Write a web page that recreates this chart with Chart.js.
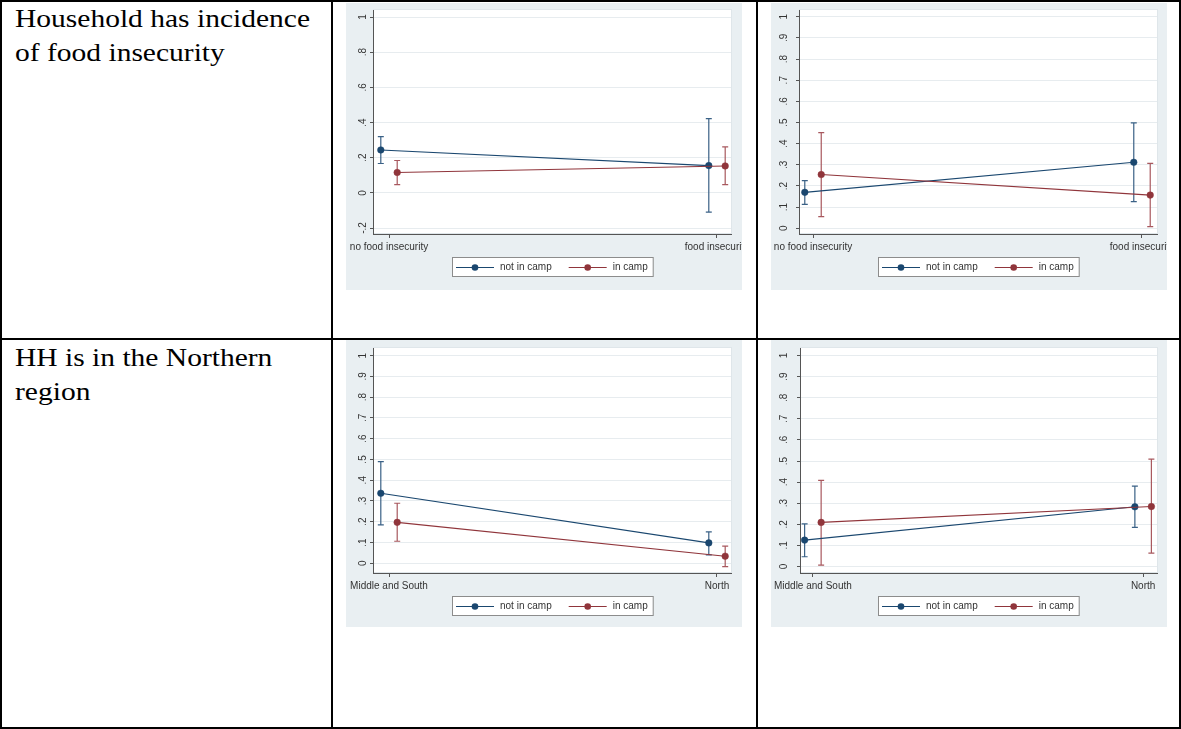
<!DOCTYPE html>
<html>
<head>
<meta charset="utf-8">
<script src="https://cdn.jsdelivr.net/npm/chart.js@4.4.1/dist/chart.umd.min.js"></script>
<style>
  html, body { margin: 0; padding: 0; background: #ffffff; }
  #page { position: relative; width: 1181px; height: 729px; overflow: hidden; background: #ffffff; }
  .rule { position: absolute; background: #000000; }
  .cell-text {
    position: absolute; left: 15px; white-space: nowrap;
    font-family: "Liberation Serif", "Times New Roman", serif;
    font-size: 26px; line-height: 34px; color: #000000;
    transform: scaleX(1.135); transform-origin: 0 0;
  }
  .panel { position: absolute; width: 396px; height: 287px; background: #e9eff2; overflow: hidden; }
  .panel canvas { display: block; }
</style>
</head>
<body>
<div id="page">
  <div class="rule" style="left:0;top:0;width:1181px;height:2px"></div>
  <div class="rule" style="left:0;top:727px;width:1181px;height:2px"></div>
  <div class="rule" style="left:0;top:0;width:2px;height:729px"></div>
  <div class="rule" style="left:331px;top:0;width:2px;height:729px"></div>
  <div class="rule" style="left:756px;top:0;width:2px;height:729px"></div>
  <div class="rule" style="left:1179px;top:0;width:2px;height:729px"></div>
  <div class="rule" style="left:0;top:338px;width:1181px;height:2px"></div>

  <div class="cell-text" style="top:2px">Household has incidence<br>of food insecurity</div>
  <div class="cell-text" style="top:341px">HH is in the Northern<br>region</div>

  <div class="panel" style="left:346px;top:3px"><canvas id="foodA" width="396" height="287"></canvas></div>
  <div class="panel" style="left:771px;top:3px"><canvas id="foodB" width="396" height="287"></canvas></div>
  <div class="panel" style="left:346px;top:340px"><canvas id="regionA" width="396" height="287"></canvas></div>
  <div class="panel" style="left:771px;top:340px"><canvas id="regionB" width="396" height="287"></canvas></div>
</div>

<script>
// ---- categories, series names and tick labels ----
const CATEGORIES_FOOD = ["no food insecurity", "food insecurity"];
const CATEGORIES_REGION = ["Middle and South", "North"];
const SERIES_NAMES = ["not in camp", "in camp"];

const TICKS_FIFTHS = [-0.2, 0, 0.2, 0.4, 0.6, 0.8, 1];
const TICK_LABELS_FIFTHS = ["-.2", "0", ".2", ".4", ".6", ".8", "1"];
const TICKS_TENTHS = [0, 0.1, 0.2, 0.3, 0.4, 0.5, 0.6, 0.7, 0.8, 0.9, 1];
const TICK_LABELS_TENTHS = ["0", ".1", ".2", ".3", ".4", ".5", ".6", ".7", ".8", ".9", "1"];

// ---- predicted probabilities with 95% confidence bounds ----
// food insecurity, first specification
const FOOD_A_NOT_CAMP    = [0.244, 0.155];
const FOOD_A_NOT_CAMP_LO = [0.167, -0.110];
const FOOD_A_NOT_CAMP_HI = [0.320, 0.422];
const FOOD_A_IN_CAMP     = [0.116, 0.153];
const FOOD_A_IN_CAMP_LO  = [0.047, 0.047];
const FOOD_A_IN_CAMP_HI  = [0.184, 0.261];

// food insecurity, second specification
const FOOD_B_NOT_CAMP    = [0.170, 0.312];
const FOOD_B_NOT_CAMP_LO = [0.113, 0.126];
const FOOD_B_NOT_CAMP_HI = [0.225, 0.498];
const FOOD_B_IN_CAMP     = [0.254, 0.157];
const FOOD_B_IN_CAMP_LO  = [0.055, 0.008];
const FOOD_B_IN_CAMP_HI  = [0.452, 0.307];

// Northern region, first specification
const REGION_A_NOT_CAMP    = [0.337, 0.098];
const REGION_A_NOT_CAMP_LO = [0.185, 0.040];
const REGION_A_NOT_CAMP_HI = [0.490, 0.151];
const REGION_A_IN_CAMP     = [0.197, 0.034];
const REGION_A_IN_CAMP_LO  = [0.106, -0.016];
const REGION_A_IN_CAMP_HI  = [0.289, 0.082];

// Northern region, second specification
const REGION_B_NOT_CAMP    = [0.125, 0.283];
const REGION_B_NOT_CAMP_LO = [0.046, 0.185];
const REGION_B_NOT_CAMP_HI = [0.202, 0.381];
const REGION_B_IN_CAMP     = [0.209, 0.284];
const REGION_B_IN_CAMP_LO  = [0.006, 0.063];
const REGION_B_IN_CAMP_HI  = [0.408, 0.509];

// ---- styling ----
const SERIES_COLORS = ["#1a476f", "#90353b"];
const CI_COLORS = ["#3a6186", "#a8585e"];
const DODGE = [-0.025, 0.025];          // horizontal offset of each series around its category
const FONT = { family: "'Liberation Sans', Arial, sans-serif", size: 10 };
const TEXT_COLOR = "#333333";
const AXIS_COLOR = "#555555";
const GRID_COLOR = "#e7ecef";

// white plot region behind the data
const plotRegion = {
  id: "plotRegion",
  beforeDraw(chart) {
    const { ctx, chartArea: a } = chart;
    ctx.save();
    ctx.fillStyle = "#ffffff";
    ctx.fillRect(a.left, a.top, a.right - a.left, a.bottom - a.top);
    ctx.strokeStyle = "#dfe6ea";
    ctx.lineWidth = 1;
    ctx.strokeRect(a.left + 0.5, a.top - 0.5, a.right - a.left, a.bottom - a.top);
    ctx.restore();
  }
};

// capped confidence-interval spikes
const errorBars = {
  id: "errorBars",
  beforeDatasetsDraw(chart) {
    const { ctx, scales: { x, y } } = chart;
    chart.data.datasets.forEach(ds => {
      ctx.save();
      ctx.strokeStyle = ds.ciColor;
      ctx.lineWidth = 1.2;
      ds.data.forEach((pt, j) => {
        const px = x.getPixelForValue(pt.x);
        const lo = y.getPixelForValue(ds.errLo[j]);
        const hi = y.getPixelForValue(ds.errHi[j]);
        ctx.beginPath();
        ctx.moveTo(px, lo); ctx.lineTo(px, hi);
        ctx.moveTo(px - 3, lo); ctx.lineTo(px + 3, lo);
        ctx.moveTo(px - 3, hi); ctx.lineTo(px + 3, hi);
        ctx.stroke();
      });
      ctx.restore();
    });
  }
};

// boxed legend under the axis, line-and-marker keys
const boxedLegend = {
  id: "boxedLegend",
  afterDraw(chart) {
    const { ctx, chartArea: a } = chart;
    const sets = chart.data.datasets;
    ctx.save();
    ctx.font = FONT.size + "px " + FONT.family;
    const keyW = 38, afterKey = 6, between = 17, padL = 4, padR = 5, boxH = 19;
    const widths = sets.map(ds => ctx.measureText(ds.label).width);
    let total = padL + padR;
    widths.forEach((w, i) => { total += keyW + afterKey + w + (i ? between : 0); });
    const cx = (a.left + a.right) / 2;
    const left = Math.round(cx - total / 2);
    const top = Math.round(a.bottom + 23);
    ctx.fillStyle = "#ffffff";
    ctx.fillRect(left, top, total, boxH);
    ctx.strokeStyle = "#8c8c8c";
    ctx.lineWidth = 1;
    ctx.strokeRect(left + 0.5, top + 0.5, total, boxH);
    const midY = top + boxH / 2 + 0.5;
    let xPos = left + padL;
    sets.forEach((ds, i) => {
      if (i) xPos += between;
      ctx.strokeStyle = ds.borderColor;
      ctx.beginPath(); ctx.moveTo(xPos, Math.round(midY) + 0.5); ctx.lineTo(xPos + keyW, Math.round(midY) + 0.5); ctx.stroke();
      ctx.fillStyle = ds.borderColor;
      ctx.beginPath(); ctx.arc(xPos + keyW / 2, Math.round(midY) + 0.5, 3.3, 0, Math.PI * 2); ctx.fill();
      xPos += keyW + afterKey;
      ctx.fillStyle = TEXT_COLOR;
      ctx.textBaseline = "middle";
      ctx.textAlign = "left";
      ctx.fillText(ds.label, xPos, midY);
      xPos += widths[i];
    });
    ctx.restore();
  }
};

function buildChart(id, spec) {
  const datasets = spec.series.map((s, k) => ({
    label: SERIES_NAMES[k],
    data: s.values.map((v, j) => ({ x: j + DODGE[k], y: v })),
    errLo: s.lo,
    errHi: s.hi,
    ciColor: CI_COLORS[k],
    borderColor: SERIES_COLORS[k],
    backgroundColor: SERIES_COLORS[k],
    pointBackgroundColor: SERIES_COLORS[k],
    pointBorderColor: SERIES_COLORS[k],
    pointRadius: 3.3,
    pointBorderWidth: 0.5,
    borderWidth: 1.1,
    showLine: true,
    tension: 0,
    order: 1 - k,
    clip: false
  }));

  const H = 287, W = 396, xAxisH = 20;
  return new Chart(document.getElementById(id), {
    type: "scatter",
    data: { datasets },
    plugins: [plotRegion, errorBars, boxedLegend],
    options: {
      responsive: false,
      animation: false,
      events: [],
      layout: {
        padding: { left: 0, right: W - spec.area.right, top: spec.area.top, bottom: H - spec.area.bottom - xAxisH }
      },
      plugins: { legend: { display: false }, tooltip: { enabled: false } },
      scales: {
        x: {
          type: "linear",
          min: spec.xRange[0],
          max: spec.xRange[1],
          afterBuildTicks: sc => { sc.ticks = spec.categories.map((c, i) => ({ value: i })); },
          afterFit: sc => { sc.height = xAxisH; sc.paddingLeft = 0; sc.paddingRight = 0; },
          ticks: {
            font: FONT, color: TEXT_COLOR, padding: 3, autoSkip: false,
            maxRotation: 0, minRotation: 0,
            callback: (v, i) => spec.categories[i]
          },
          grid: { drawOnChartArea: false, drawTicks: true, tickLength: 4, tickColor: AXIS_COLOR },
          border: { display: true, color: AXIS_COLOR, width: 1 }
        },
        y: {
          type: "linear",
          min: spec.yRange[0],
          max: spec.yRange[1],
          afterBuildTicks: sc => { sc.ticks = spec.ticks.map(v => ({ value: v })); },
          afterFit: sc => { sc.width = spec.area.left; sc.paddingTop = 0; sc.paddingBottom = 0; },
          ticks: {
            font: FONT, color: TEXT_COLOR, autoSkip: false,
            minRotation: 90, maxRotation: 90,
            crossAlign: "center",
            padding: spec.yLabelPad,
            callback: (v, i) => spec.tickLabels[i]
          },
          grid: { color: GRID_COLOR, lineWidth: 1, drawTicks: true, tickLength: 3, tickColor: AXIS_COLOR },
          border: { display: true, color: AXIS_COLOR, width: 1 }
        }
      }
    }
  });
}

buildChart("foodA", {
  categories: CATEGORIES_FOOD,
  series: [
    { values: FOOD_A_NOT_CAMP, lo: FOOD_A_NOT_CAMP_LO, hi: FOOD_A_NOT_CAMP_HI },
    { values: FOOD_A_IN_CAMP, lo: FOOD_A_IN_CAMP_LO, hi: FOOD_A_IN_CAMP_HI }
  ],
  ticks: TICKS_FIFTHS, tickLabels: TICK_LABELS_FIFTHS,
  xRange: [-0.0488, 1.0427], yRange: [-0.234, 1.04],
  area: { left: 27, right: 385, top: 7, bottom: 231 }, yLabelPad: 1
});

buildChart("foodB", {
  categories: CATEGORIES_FOOD,
  series: [
    { values: FOOD_B_NOT_CAMP, lo: FOOD_B_NOT_CAMP_LO, hi: FOOD_B_NOT_CAMP_HI },
    { values: FOOD_B_IN_CAMP, lo: FOOD_B_IN_CAMP_LO, hi: FOOD_B_IN_CAMP_HI }
  ],
  ticks: TICKS_TENTHS, tickLabels: TICK_LABELS_TENTHS,
  xRange: [-0.0426, 1.0456], yRange: [-0.027, 1.032],
  area: { left: 28, right: 386, top: 7, bottom: 231 }, yLabelPad: 8
});

buildChart("regionA", {
  categories: CATEGORIES_REGION,
  series: [
    { values: REGION_A_NOT_CAMP, lo: REGION_A_NOT_CAMP_LO, hi: REGION_A_NOT_CAMP_HI },
    { values: REGION_A_IN_CAMP, lo: REGION_A_IN_CAMP_LO, hi: REGION_A_IN_CAMP_HI }
  ],
  ticks: TICKS_TENTHS, tickLabels: TICK_LABELS_TENTHS,
  xRange: [-0.0488, 1.0427], yRange: [-0.047, 1.037],
  area: { left: 27, right: 385, top: 8, bottom: 233 }, yLabelPad: 3
});

buildChart("regionB", {
  categories: CATEGORIES_REGION,
  series: [
    { values: REGION_B_NOT_CAMP, lo: REGION_B_NOT_CAMP_LO, hi: REGION_B_NOT_CAMP_HI },
    { values: REGION_B_IN_CAMP, lo: REGION_B_IN_CAMP_LO, hi: REGION_B_IN_CAMP_HI }
  ],
  ticks: TICKS_TENTHS, tickLabels: TICK_LABELS_TENTHS,
  xRange: [-0.039, 1.042], yRange: [-0.031, 1.036],
  area: { left: 29, right: 386, top: 8, bottom: 233 }, yLabelPad: 9
});
</script>
</body>
</html>
